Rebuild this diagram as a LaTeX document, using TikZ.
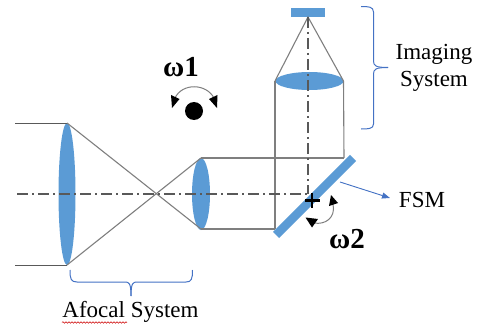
\documentclass[tikz,border=0pt]{standalone}
\usepackage{fontspec}
\setmainfont{Liberation Serif}
\usetikzlibrary{arrows.meta,decorations.pathmorphing}
\definecolor{lensblue}{HTML}{5B9BD5}
\definecolor{bracketblue}{HTML}{4472C4}
\definecolor{raygray}{HTML}{7F7F7F}
\definecolor{axisgray}{HTML}{595959}
\tikzset{
  ray/.style={draw=raygray,line width=1.1pt},
  inray/.style={draw=axisgray,line width=1pt},
  axisline/.style={draw=axisgray,line width=1.5pt,dash pattern=on 11pt off 4pt on 2pt off 4pt},
  lens/.style={fill=lensblue,draw=none},
  bracket/.style={draw=bracketblue,line width=1pt,line join=round},
  rotarc/.style={draw=raygray,line width=1pt},
  rothead/.style={fill=black,draw=none},
  lbl/.style={font=\fontsize{23}{26}\selectfont,inner sep=0pt,align=center,text=black},
  omega/.style={font=\fontsize{29}{30}\selectfont\bfseries,inner sep=0pt,text=black}
}
\begin{document}
\begin{tikzpicture}[x=1pt,y=-1pt]
\useasboundingbox (0,0) rectangle (481,326);
% named points
\coordinate (inT) at (15,123);
\coordinate (inB) at (15,265);
\coordinate (bigT) at (67,123);
\coordinate (bigB) at (67,265);
\coordinate (smT) at (201,158);
\coordinate (smB) at (201,229);
\coordinate (foldTR) at (344,158);
\coordinate (foldBL) at (275,229);
\coordinate (imL) at (275,81);
\coordinate (imR) at (343.5,81);
\coordinate (apex) at (308,17);
\coordinate (axL) at (17,194);
\coordinate (axC) at (308,194);
\coordinate (mirT) at (353,158);
\coordinate (mirB) at (276,235);
% lenses
\fill[lens] (67,194) ellipse [x radius=8.5,y radius=71];
\fill[lens] (201,194) ellipse [x radius=9,y radius=36];
\fill[lens] (309.5,81) ellipse [x radius=34,y radius=9];
\fill[lens] (290.5,8.5) rectangle (325,17);
% rays
\draw[inray] (inT) -- (bigT);
\draw[inray] (inB) -- (bigB);
\draw[ray] (bigT) -- (smB);
\draw[ray] (bigB) -- (smT);
\draw[ray] (smT) -- (foldTR);
\draw[ray] (smB) -- (foldBL);
\draw[ray] (foldBL) -- (imL);
\draw[ray] (foldTR) -- (imR);
\draw[ray] (imL) -- (apex) -- (imR);
% axes
\draw[axisline] (axL) -- (axC);
\draw[axisline] (apex) -- (axC);
% mirror
\draw[lensblue,line width=8.5pt] (mirT) -- (mirB);
% plus
\draw[black,line width=2.4pt] (304.5,200.5) -- (320,200.5) (312,193) -- (312,208);
% FSM
\node[lbl] (fsm) at (422,200) {FSM};
\coordinate (fsmFrom) at (340,182);
\draw[bracketblue,line width=0.9pt,-{Triangle[length=8pt,width=6pt]}] (fsmFrom) -- (390,198);
% omega 1
\node[omega] (w1) at (181,67) {ω1};
\node[circle,fill=black,minimum size=18pt,inner sep=0pt] (dot) at (194,111) {};
\draw[rotarc] (175,98) .. controls (182,83) and (206,83) .. (214,98);
\fill[rothead] (172,108) -- (171,95) -- (179.5,99) -- cycle;
\fill[rothead] (217,108) -- (217.5,95) -- (209,99) -- cycle;
% omega 2
\node[omega] (w2) at (347,239) {ω2};
\draw[rotarc] (314,223) .. controls (325,225) and (336,218) .. (333,204);
\fill[rothead] (305.5,217.5) -- (318,219) -- (312,227.5) -- cycle;
\fill[rothead] (331,195) -- (329,206) -- (338,203) -- cycle;
% imaging bracket
\draw[bracket] (361,6.5) .. controls (368,6.5) and (373.5,6.5) .. (373.5,12) -- (373.5,61) .. controls (373.5,66) and (376,67.5) .. (388,67.5);
\draw[bracket] (361,129) .. controls (368,129) and (373.5,129) .. (373.5,124) -- (373.5,74) .. controls (373.5,69) and (376,67.5) .. (388,67.5);
\node[lbl] (imaging) at (434,68) {Imaging\\[1pt]System};
% afocal bracket
\draw[bracket] (70,270) .. controls (70,279) and (71,282) .. (77,282) -- (125,282) .. controls (129,282) and (131,283) .. (131,296);
\draw[bracket] (192.5,270) .. controls (192.5,279) and (191.5,282) .. (186,282) -- (137,282) .. controls (133,282) and (131,283) .. (131,296);
\node[lbl] (afocal) at (130.5,312) {Afocal System};
\coordinate (sqL) at (62,322.5);
\coordinate (sqR) at (127,322.5);
\draw[red!80!black,line width=0.5pt,decorate,decoration={snake,amplitude=0.8pt,segment length=3pt}] (sqL) -- (sqR);
\end{tikzpicture}
\end{document}
